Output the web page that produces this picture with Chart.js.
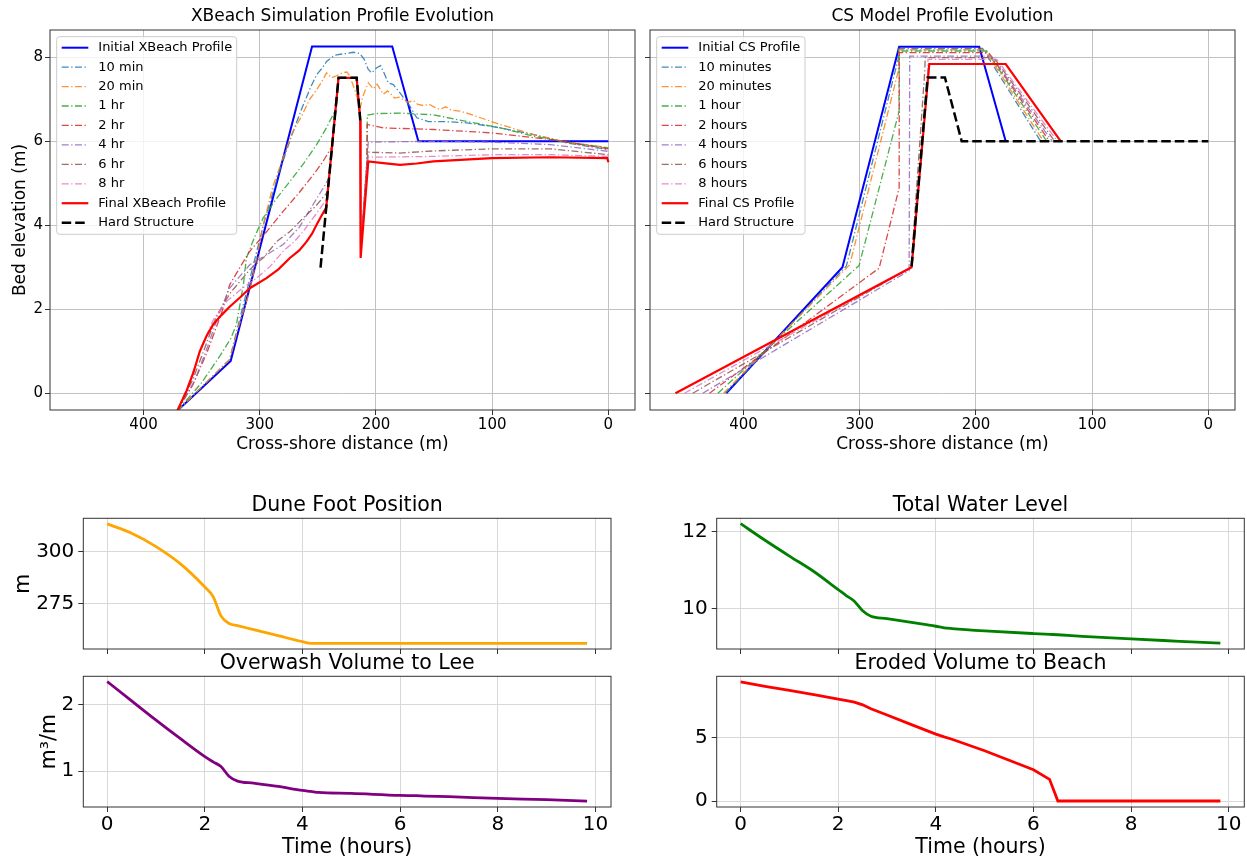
<!DOCTYPE html>
<html>
<head>
<meta charset="utf-8">
<script src="https://cdn.jsdelivr.net/npm/chart.js@4.4.1/dist/chart.umd.min.js"></script>
<style>
  body { margin: 0; background: #fff; width: 1247px; height: 859px; position: relative; overflow: hidden; }
  canvas { position: absolute; }
</style>
</head>
<body>
<canvas id="xbChart" width="640" height="470" style="left:0;top:0"></canvas>
<canvas id="csChart" width="607" height="470" style="left:640px;top:0"></canvas>
<canvas id="duneChart" width="620" height="165" style="left:0;top:490px"></canvas>
<canvas id="overwashChart" width="620" height="210" style="left:0;top:650px"></canvas>
<canvas id="twlChart" width="617" height="165" style="left:630px;top:490px"></canvas>
<canvas id="erodedChart" width="617" height="210" style="left:630px;top:650px"></canvas>
<script>
Chart.defaults.font.family = "'DejaVu Sans', sans-serif";
Chart.defaults.color = '#000';

// ---- XBeach profiles: cross-shore distance (m) / bed elevation (m) ----
const xbInitialDist = [371, 325, 255, 186, 163.5, 0];
const xbInitialElev = [-0.42, 0.77, 8.26, 8.26, 6.0, 6.0];

const xb10minDist = [371, 348, 326, 316, 306, 296, 284, 273, 265, 256, 251, 246, 242.5, 238, 233.9, 226, 219.6, 213.8, 210.1, 206.6, 203.7, 199.4, 196, 193.1, 189.4, 185.1, 179.3, 170.7, 164.9, 155, 142, 121.8, 93.1, 64.4, 35.6, 0];
const xb10minElev = [-0.42, 0.2, 0.8, 1.9, 3.0, 4.1, 5.2, 6.1, 6.7, 7.3, 7.59, 7.75, 7.9, 8.0, 8.06, 8.09, 8.12, 8.09, 7.95, 7.71, 7.63, 7.75, 7.8, 7.63, 7.39, 7.35, 7.15, 6.83, 6.56, 6.47, 6.47, 6.44, 6.32, 6.16, 5.96, 5.8];

const xb20minDist = [371, 348, 326, 318, 309, 302, 297, 289, 280, 272, 264, 257, 251, 247, 242.5, 238.2, 234, 228.2, 225, 222.4, 218, 213.5, 211.5, 209.5, 206.6, 202.3, 199, 196, 193.7, 190, 187, 184, 180, 176, 172, 168, 164, 159, 154, 149, 145, 140, 135, 128, 121.8, 93.1, 64.4, 35.6, 0];
const xb20minElev = [-0.42, 0.2, 0.8, 1.6, 2.4, 3.3, 4.0, 4.9, 5.6, 6.2, 6.6, 7.0, 7.23, 7.4, 7.63, 7.51, 7.56, 7.64, 7.65, 7.55, 7.2, 6.8, 7.05, 7.2, 7.39, 7.25, 7.36, 7.22, 7.12, 7.2, 7.12, 7.03, 7.05, 6.98, 6.93, 6.97, 6.88, 6.85, 6.88, 6.8, 6.76, 6.82, 6.74, 6.72, 6.67, 6.4, 6.16, 5.98, 5.85];

const xb1hrDist = [371, 350, 334, 325, 320.1, 314, 311.5, 304, 297.1, 286, 274.1, 262, 251.1, 243, 234.8, 232.2, 216.6, 213.5, 213.2, 207.6, 207.5, 200, 179.3, 150.6, 121.8, 93.1, 64.4, 35.6, 0];
const xb1hrElev = [-0.42, 0.25, 0.9, 1.3, 1.63, 2.6, 3.22, 3.75, 4.17, 4.62, 5.04, 5.48, 5.92, 6.3, 6.75, 7.51, 7.51, 6.5, 3.4, 5.6, 6.62, 6.66, 6.67, 6.63, 6.47, 6.32, 6.12, 5.98, 5.84];

const xb2hrDist = [371, 357.5, 345, 333, 325.9, 317, 308.6, 294, 279.9, 266, 254, 246, 237.8, 232.2, 216.6, 213.5, 213.2, 207.8, 207.6, 193.7, 150.6, 100.3, 50, 0];
const xb2hrElev = [-0.42, 0.2, 1.0, 1.9, 2.58, 3.0, 3.38, 3.85, 4.33, 4.78, 5.2, 5.5, 5.88, 7.51, 7.51, 6.5, 3.4, 5.5, 6.4, 6.32, 6.28, 6.2, 6.04, 5.82];

const xb4hrDist = [371, 356, 345, 335, 326, 308.6, 294, 279.9, 266, 254, 244, 240.4, 232.2, 216.6, 213.5, 213.2, 207.8, 206.6, 150.6, 100.3, 50, 0];
const xb4hrElev = [-0.42, 0.3, 1.1, 1.9, 2.5, 3.06, 3.3, 3.54, 3.95, 4.5, 4.95, 5.12, 7.51, 7.51, 6.5, 3.4, 5.5, 5.98, 6.0, 5.98, 5.92, 5.76];

const xb6hrDist = [371, 358, 347, 337, 325, 308.6, 296, 285.6, 274, 262.7, 252, 245, 241.5, 232.2, 216.6, 213.5, 213.2, 207.8, 206.6, 179.3, 150.6, 100.3, 50, 0];
const xb6hrElev = [-0.42, 0.3, 1.1, 1.85, 2.4, 2.94, 3.25, 3.61, 3.85, 4.17, 4.45, 4.68, 4.8, 7.51, 7.51, 6.5, 3.4, 5.4, 5.74, 5.72, 5.77, 5.82, 5.82, 5.68];

const xb8hrDist = [371, 360, 350, 340, 328, 315, 302.8, 291, 279.9, 270, 262.7, 252, 245, 242, 232.2, 216.6, 213.5, 213.2, 207.8, 206.6, 150.6, 100.3, 50, 0];
const xb8hrElev = [-0.42, 0.3, 1.1, 1.75, 2.2, 2.5, 2.74, 3.02, 3.38, 3.62, 3.85, 4.25, 4.52, 4.65, 7.51, 7.51, 6.5, 3.4, 5.4, 5.62, 5.64, 5.68, 5.68, 5.64];

const xbFinalDist = [371, 363.2, 357, 351.7, 346, 340.2, 333, 325.9, 317, 308.6, 294.2, 284, 274.1, 266, 259.7, 255, 251.1, 247, 242.8, 232.2, 216.6, 213.5, 213.2, 206.6, 193.7, 179.3, 165, 150.6, 100.3, 50, 1, 0];
const xbFinalElev = [-0.42, 0.04, 0.5, 0.99, 1.35, 1.63, 1.86, 2.06, 2.28, 2.5, 2.74, 2.95, 3.22, 3.4, 3.61, 3.8, 4.01, 4.22, 4.42, 7.51, 7.51, 6.5, 3.22, 5.52, 5.48, 5.44, 5.47, 5.52, 5.6, 5.62, 5.6, 5.5];

const xbHardDist = [247.7, 232.2, 216.6, 213.5];
const xbHardElev = [2.99, 7.51, 7.51, 6.5];

// ---- CS model profiles ----
const csInitialDist = [414.9, 314.9, 266.1, 197.2, 174.4];
const csInitialElev = [0, 3.0, 8.25, 8.25, 6.0];
const cs10minDist = [415.5, 311.5, 267, 266.7, 194.3, 144.3];
const cs10minElev = [0, 3.03, 7.95, 8.21, 8.21, 6.0];
const cs20minDist = [417.2, 308.6, 266.6, 266.3, 192.5, 141.9];
const cs20minElev = [0, 3.06, 7.7, 8.18, 8.18, 6.0];
const cs1hrDist = [422.1, 300.6, 266.2, 266.1, 190.8, 139.1];
const cs1hrElev = [0, 3.04, 6.71, 8.15, 8.15, 6.0];
const cs2hrDist = [429.3, 283.3, 266.1, 266.0, 189.1, 136.8];
const cs2hrElev = [0, 2.98, 4.89, 8.11, 8.11, 6.0];
const cs4hrDist = [435.1, 257.5, 257.0, 186.8, 134.5];
const cs4hrElev = [0, 2.92, 8.03, 8.03, 6.0];
const cs6hrDist = [443.7, 255.8, 244.0, 243.7, 184.5, 132.2];
const cs6hrElev = [0, 3.0, 7.7, 7.99, 7.99, 6.0];
const cs8hrDist = [450.9, 255.6, 241.5, 241.3, 182.2, 129.9];
const cs8hrElev = [0, 3.0, 7.6, 7.95, 7.95, 6.0];
const csFinalDist = [458.6, 255.4, 240.2, 174.4, 127.0];
const csFinalElev = [0, 3.0, 7.84, 7.84, 6.0];
const csHardDist = [255.4, 241.6, 226.7, 212.3, 0];
const csHardElev = [3.02, 7.52, 7.52, 6.0, 6.0];

const profileTicks = [0, 100, 200, 300, 400];
const elevTicks = [0, 2, 4, 6, 8];

// ---- time series ----
const timeHours = [0, 0.5, 1, 1.5, 2, 2.17, 2.33, 2.5, 2.67, 3, 3.5, 4, 4.17, 4.33, 5, 6, 6.33, 6.5, 7, 8, 9, 9.83];
const duneFoot = [313.2, 308.7, 302.3, 294.0, 282.9, 278.3, 269.0, 265.3, 264.3, 262.4, 259.5, 256.6, 255.8, 255.8, 255.8, 255.8, 255.8, 255.8, 255.8, 255.8, 255.8, 255.8];
const overwashVol = [2.35, 2.06, 1.77, 1.49, 1.22, 1.14, 1.07, 0.92, 0.85, 0.82, 0.77, 0.71, 0.695, 0.68, 0.665, 0.635, 0.63, 0.625, 0.615, 0.59, 0.57, 0.55];
const totalWaterLevel = [12.2, 11.77, 11.36, 10.96, 10.49, 10.33, 10.19, 9.94, 9.80, 9.74, 9.64, 9.54, 9.50, 9.48, 9.42, 9.35, 9.33, 9.32, 9.28, 9.21, 9.15, 9.10];
const erodedVol = [9.35, 9.0, 8.68, 8.35, 7.99, 7.88, 7.76, 7.55, 7.24, 6.75, 6.0, 5.25, 5.03, 4.85, 3.95, 2.45, 1.70, 0, 0, 0, 0, 0];
const timeTicks = [0, 2, 4, 6, 8, 10];

const SPINE = '#333';
const TOP_GRID = '#c2c2c2';
const BOTTOM_GRID = '#d8d8d8';
const DASHDOT = [7, 2.5, 1.3, 2.5];

function pts(xs, ys) {
  return xs.map((x, i) => ({ x, y: ys[i] }));
}

function line(label, xs, ys, color, width, dash, order) {
  return { label, data: pts(xs, ys), borderColor: color, borderWidth: width, borderDash: dash, pointRadius: 0, tension: 0, fill: false, order };
}

const framePlugin = {
  id: 'frame',
  afterDatasetsDraw(chart) {
    const { ctx, chartArea: a } = chart;
    ctx.save();
    ctx.strokeStyle = SPINE;
    ctx.lineWidth = 1;
    ctx.strokeRect(a.left, a.top, a.right - a.left, a.bottom - a.top);
    ctx.restore();
  }
};

const boxLegend = {
  id: 'boxLegend',
  afterDraw(chart, args, o) {
    const ctx = chart.ctx;
    ctx.save();
    ctx.beginPath();
    ctx.roundRect(o.left, o.top, o.width, o.height, 3);
    ctx.fillStyle = 'rgba(255,255,255,0.8)';
    ctx.fill();
    ctx.strokeStyle = '#cccccc';
    ctx.lineWidth = 1;
    ctx.stroke();
    ctx.font = '13px "DejaVu Sans"';
    ctx.textBaseline = 'middle';
    chart.data.datasets.forEach((ds, i) => {
      const y = o.rowY + i * o.rowGap;
      ctx.beginPath();
      ctx.setLineDash(ds.borderDash || []);
      ctx.strokeStyle = ds.borderColor;
      ctx.lineWidth = ds.borderWidth;
      ctx.moveTo(o.handle[0], y);
      ctx.lineTo(o.handle[1], y);
      ctx.stroke();
      ctx.setLineDash([]);
      ctx.fillStyle = '#000';
      ctx.fillText(ds.label, o.textX, y);
    });
    ctx.restore();
  }
};

function fixTicks(values) {
  return (scale) => { scale.ticks = values.map((v) => ({ value: v })); };
}

function profileChart(id, title, datasets, cfg) {
  return new Chart(document.getElementById(id), {
    type: 'line',
    data: { datasets },
    options: {
      responsive: false,
      animation: false,
      layout: { padding: { right: cfg.padRight } },
      plugins: {
        legend: { display: false },
        tooltip: { enabled: false },
        title: { display: true, text: title, color: '#000', fullSize: false, font: { size: 17, weight: 'normal' }, padding: { top: 6.8, bottom: 2.8 } },
        boxLegend: cfg.legend,
      },
      scales: {
        x: {
          type: 'linear', reverse: true, min: -22.9, max: 480.5,
          afterBuildTicks: fixTicks(profileTicks),
          afterFit: (s) => { s.height = 60; s.paddingLeft = 0; s.paddingRight = 0; },
          grid: { color: TOP_GRID, tickColor: SPINE, tickLength: 5 },
          border: { display: false },
          ticks: { font: { size: 15 }, padding: 1, maxRotation: 0, autoSkip: false },
          title: { display: true, text: 'Cross-shore distance (m)', font: { size: 17 }, padding: { top: 0, bottom: 14.8 } },
        },
        y: {
          type: 'linear', min: -0.40, max: 8.65,
          afterBuildTicks: fixTicks(elevTicks),
          afterFit: (s) => { s.width = cfg.yWidth; s.paddingTop = 0; s.paddingBottom = 0; },
          grid: { color: TOP_GRID, tickColor: SPINE, tickLength: 5 },
          border: { display: false },
          ticks: { display: cfg.yLabels, font: { size: 15 }, padding: 2 },
          title: { display: cfg.yLabels, text: 'Bed elevation (m)', font: { size: 17 }, padding: { top: 10, bottom: 0 } },
        },
      },
    },
    plugins: [framePlugin, boxLegend],
  });
}

profileChart('xbChart', 'XBeach Simulation Profile Evolution', [
  line('Initial XBeach Profile', xbInitialDist, xbInitialElev, '#0000ff', 2, [], 10),
  line('10 min', xb10minDist, xb10minElev, 'rgba(31,119,180,0.85)', 1.3, DASHDOT, 9),
  line('20 min', xb20minDist, xb20minElev, 'rgba(255,127,14,0.85)', 1.3, DASHDOT, 8),
  line('1 hr', xb1hrDist, xb1hrElev, 'rgba(44,160,44,0.85)', 1.3, DASHDOT, 7),
  line('2 hr', xb2hrDist, xb2hrElev, 'rgba(214,39,40,0.85)', 1.3, DASHDOT, 6),
  line('4 hr', xb4hrDist, xb4hrElev, 'rgba(148,103,189,0.85)', 1.3, DASHDOT, 5),
  line('6 hr', xb6hrDist, xb6hrElev, 'rgba(140,86,75,0.85)', 1.3, DASHDOT, 4),
  line('8 hr', xb8hrDist, xb8hrElev, 'rgba(227,119,194,0.85)', 1.3, DASHDOT, 3),
  line('Final XBeach Profile', xbFinalDist, xbFinalElev, '#ff0000', 2.2, [], 2),
  line('Hard Structure', xbHardDist, xbHardElev, '#000000', 2.5, [9.5, 4], 1),
], {
  padRight: 5, yWidth: 50, yLabels: true,
  legend: { left: 56.7, top: 36.7, width: 180, height: 197.6, handle: [61.7, 88.3], textX: 98.3, rowY: 47.7, rowGap: 19.44 },
});

profileChart('csChart', 'CS Model Profile Evolution', [
  line('Initial CS Profile', csInitialDist, csInitialElev, '#0000ff', 2, [], 10),
  line('10 minutes', cs10minDist, cs10minElev, 'rgba(31,119,180,0.85)', 1.3, DASHDOT, 9),
  line('20 minutes', cs20minDist, cs20minElev, 'rgba(255,127,14,0.85)', 1.3, DASHDOT, 8),
  line('1 hour', cs1hrDist, cs1hrElev, 'rgba(44,160,44,0.85)', 1.3, DASHDOT, 7),
  line('2 hours', cs2hrDist, cs2hrElev, 'rgba(214,39,40,0.85)', 1.3, DASHDOT, 6),
  line('4 hours', cs4hrDist, cs4hrElev, 'rgba(148,103,189,0.85)', 1.3, DASHDOT, 5),
  line('6 hours', cs6hrDist, cs6hrElev, 'rgba(140,86,75,0.85)', 1.3, DASHDOT, 4),
  line('8 hours', cs8hrDist, cs8hrElev, 'rgba(227,119,194,0.85)', 1.3, DASHDOT, 3),
  line('Final CS Profile', csFinalDist, csFinalElev, '#ff0000', 2.2, [], 2),
  line('Hard Structure', csHardDist, csHardElev, '#000000', 2.5, [9.5, 4], 1),
], {
  padRight: 12, yWidth: 10, yLabels: false,
  legend: { left: 16.7, top: 36.7, width: 148.3, height: 197.6, handle: [21.7, 48.3], textX: 58.3, rowY: 47.7, rowGap: 19.44 },
});

function timeChart(id, cfg) {
  const curve = cfg.smooth ? { cubicInterpolationMode: 'monotone' } : { tension: 0 };
  return new Chart(document.getElementById(id), {
    type: 'line',
    data: { datasets: [{ data: pts(timeHours, cfg.values), borderColor: cfg.color, borderWidth: 2.8, pointRadius: 0, fill: false, ...curve }] },
    options: {
      responsive: false,
      animation: false,
      layout: { padding: { right: cfg.padRight } },
      plugins: {
        legend: { display: false },
        tooltip: { enabled: false },
        title: { display: true, text: cfg.title, color: '#000', fullSize: false, font: { size: 20.5, weight: 'normal' }, padding: cfg.titlePad },
      },
      scales: {
        x: {
          type: 'linear', min: -0.49, max: 10.32,
          afterBuildTicks: fixTicks(timeTicks),
          afterFit: (s) => { s.height = cfg.xHeight; s.paddingLeft = 0; s.paddingRight = 0; },
          grid: { color: BOTTOM_GRID, tickColor: SPINE, tickLength: 5 },
          border: { display: false },
          ticks: { display: cfg.xLabels, font: { size: 20 }, padding: 1, maxRotation: 0, autoSkip: false },
          title: { display: cfg.xLabels, text: 'Time (hours)', font: { size: 20.5 }, padding: { top: 0, bottom: 0 } },
        },
        y: {
          type: 'linear', min: cfg.yMin, max: cfg.yMax,
          afterBuildTicks: fixTicks(cfg.yTicks),
          afterFit: (s) => { s.width = cfg.yWidth; s.paddingTop = 0; s.paddingBottom = 0; },
          grid: { color: BOTTOM_GRID, tickColor: SPINE, tickLength: 5 },
          border: { display: false },
          ticks: { font: { size: 20 }, padding: 4 },
          title: { display: !!cfg.yTitle, text: cfg.yTitle, font: { size: 20.5 }, padding: { top: cfg.yTitlePad || 0, bottom: 0 } },
        },
      },
    },
    plugins: [framePlugin],
  });
}

timeChart('duneChart', {
  title: 'Dune Foot Position', values: duneFoot, color: '#ffa500', smooth: true,
  yMin: 253.1, yMax: 315.9, yTicks: [275, 300], yTitle: 'm', yTitlePad: 11,
  yWidth: 83.3, xHeight: 6, xLabels: false, padRight: 9, titlePad: { top: 3, bottom: 0.7 },
});
timeChart('overwashChart', {
  title: 'Overwash Volume to Lee', values: overwashVol, color: '#800080', smooth: true,
  yMin: 0.46, yMax: 2.43, yTicks: [1, 2], yTitle: 'm³/m', yTitlePad: 37.7,
  yWidth: 83.3, xHeight: 53, xLabels: true, padRight: 9, titlePad: { top: 1.3, bottom: 0.4 },
});
timeChart('twlChart', {
  title: 'Total Water Level', values: totalWaterLevel, color: '#008000', smooth: true,
  yMin: 8.95, yMax: 12.34, yTicks: [10, 12], yTitle: '',
  yWidth: 86.7, xHeight: 6, xLabels: false, padRight: 2.7, titlePad: { top: 3, bottom: 0.7 },
});
timeChart('erodedChart', {
  title: 'Eroded Volume to Beach', values: erodedVol, color: '#ff0000', smooth: false,
  yMin: -0.47, yMax: 9.79, yTicks: [0, 5], yTitle: '',
  yWidth: 86.7, xHeight: 53, xLabels: true, padRight: 2.7, titlePad: { top: 1.3, bottom: 0.4 },
});
</script>
</body>
</html>
